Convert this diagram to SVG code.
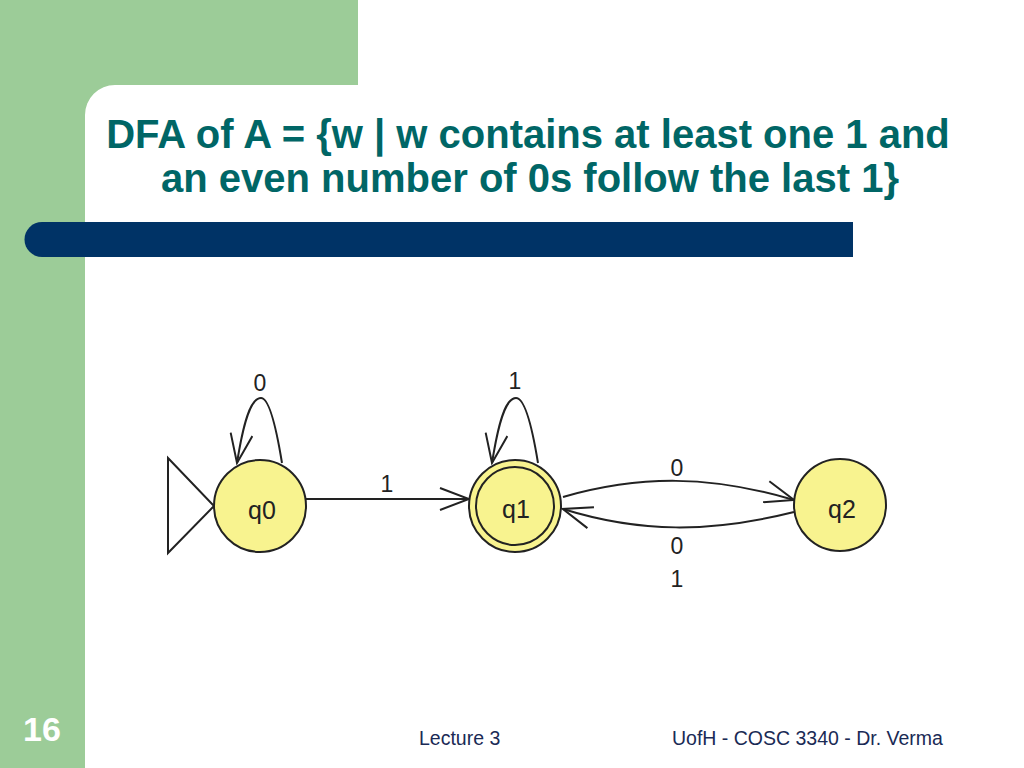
<svg xmlns="http://www.w3.org/2000/svg" width="1024" height="768" viewBox="0 0 1024 768">
<defs>
<style>
.title{font-family:"Liberation Sans",Arial,sans-serif;font-weight:bold;font-size:40px;fill:#006666;text-anchor:middle}
.foot{font-family:"Liberation Sans",Arial,sans-serif;font-size:19.5px;fill:#1a2a55}
.state{fill:#f8f38f;stroke:#222;stroke-width:2}
.slabel{font-family:"Liberation Sans",Arial,sans-serif;font-size:25px;fill:#222;text-anchor:middle}
.elabel{font-family:"Liberation Sans",Arial,sans-serif;font-size:23px;fill:#222;text-anchor:middle}
.edge{fill:none;stroke:#222;stroke-width:2}
</style>
<marker id="arr" viewBox="0 0 32 24" refX="30" refY="12" markerWidth="32" markerHeight="24" markerUnits="userSpaceOnUse" orient="auto">
<path d="M1,1 L30,12 L1,23" fill="none" stroke="#222" stroke-width="2"/>
</marker>
</defs>
<rect width="1024" height="768" fill="#ffffff"/>
<g id="background">
<rect x="0" y="0" width="358" height="85" fill="#9ccc98"/>
<rect x="0" y="0" width="85" height="768" fill="#9ccc98"/>
<path d="M85,85 L115,85 A30,30 0 0 0 85,115 Z" fill="#9ccc98"/>
<path d="M42,222 L853,222 L853,257 L42,257 A17.5,17.5 0 0 1 42,222 Z" fill="#003366"/>
</g>
<g id="title">
<text class="title" x="528" y="148">DFA of A = {w | w contains at least one 1 and</text>
<text class="title" x="530" y="192">an even number of 0s follow the last 1}</text>
</g>
<g id="connectors">
<path class="edge" d="M168,458 L214,506 L168,553 Z"/>
<path class="edge" d="M282,463 C275,420 268,398 261,398 C250,398 243,425 237,463" marker-end="url(#arr)"/>
<path class="edge" d="M538,463 C531,420 524,398 516,398 C505,398 498,425 492,463" marker-end="url(#arr)"/>
<path class="edge" d="M306,499 L469,499" marker-end="url(#arr)"/>
<path class="edge" d="M563,497 C640,475 710,475 794,500" marker-end="url(#arr)"/>
<path class="edge" d="M794,512 C710,533 640,533 563,509" marker-end="url(#arr)"/>
<text class="elabel" x="260" y="391">0</text>
<text class="elabel" x="515" y="389">1</text>
<text class="elabel" x="387" y="492">1</text>
<text class="elabel" x="677" y="476">0</text>
<text class="elabel" x="677" y="554">0</text>
<text class="elabel" x="677" y="587">1</text>
</g>
<g id="q0">
<circle class="state" cx="260" cy="506" r="46"/>
<text class="slabel" x="262" y="519">q0</text>
</g>
<g id="q1">
<circle class="state" cx="515" cy="506" r="46"/>
<circle class="state" cx="515" cy="506" r="39" fill="none"/>
<text class="slabel" x="516" y="518">q1</text>
</g>
<g id="q2">
<circle class="state" cx="840" cy="505" r="46"/>
<text class="slabel" x="842" y="518">q2</text>
</g>
<g id="footer">
<text x="23" y="741" font-family="'Liberation Sans',Arial,sans-serif" font-weight="bold" font-size="34" fill="#ffffff">16</text>
<text class="foot" x="419" y="745">Lecture 3</text>
<text class="foot" x="672" y="745">UofH - COSC 3340 - Dr. Verma</text>
</g>
</svg>
